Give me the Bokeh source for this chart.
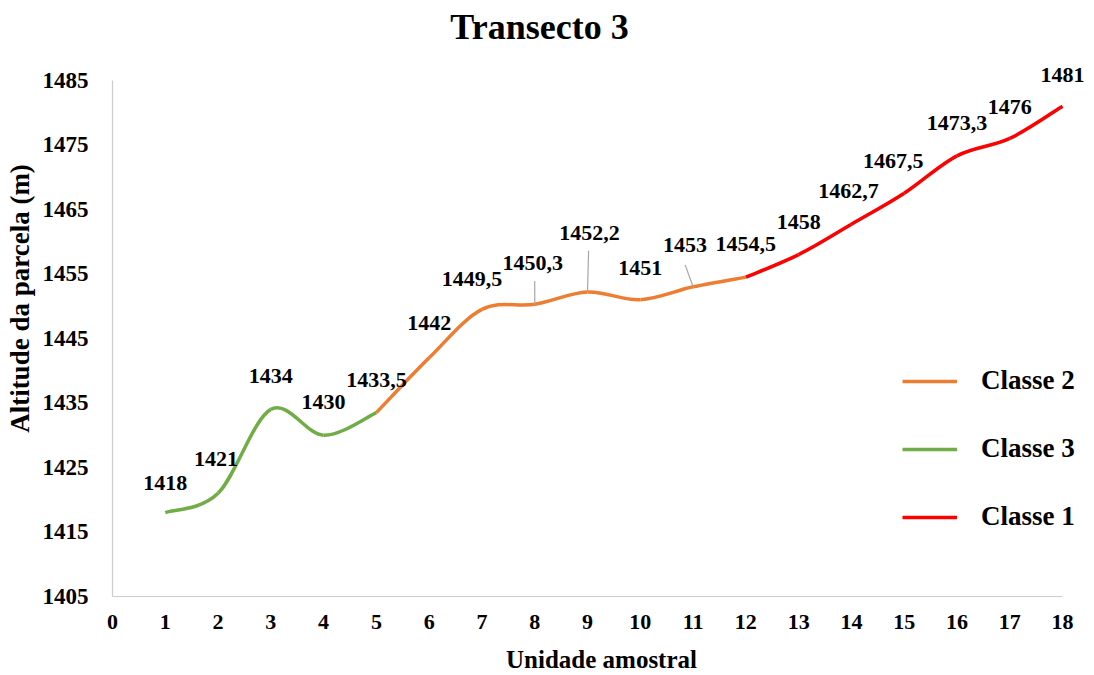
from bokeh.plotting import figure
from bokeh.models import (Range1d, FixedTicker, Legend, LegendItem, LabelSet,
                          Label, ColumnDataSource)
from bokeh.embed import file_html
from bokeh.resources import INLINE

# ---------------- data ----------------
units = list(range(1, 19))
altitude = [1418, 1421, 1434, 1430, 1433.5, 1442, 1449.5, 1450.3, 1452.2,
            1451, 1453, 1454.5, 1458, 1462.7, 1467.5, 1473.3, 1476, 1481]
labels = ["1418", "1421", "1434", "1430", "1433,5", "1442", "1449,5",
          "1450,3", "1452,2", "1451", "1453", "1454,5", "1458", "1462,7",
          "1467,5", "1473,3", "1476", "1481"]
# class segments (first unit, last unit)
classe3_units = [1, 5]
classe2_units = [5, 12]
classe1_units = [12, 18]
y_ticks = [1405, 1415, 1425, 1435, 1445, 1455, 1465, 1475, 1485]
x_ticks = list(range(0, 19))

# label placement (screen px)
label_dx = [0, -2, 0, 0, 0, 0, -10, -2, 2, 0, -8, 0, 0, -3, -11, 0, 0, 0]
label_dy = [30, 34, 33, 33, 33, 35, 30, 41, 59, 32, 42, 33, 33, 33, 32, 33, 31, 31]
# leader lines: unit index, (dx, dy) of top end in data units
leaders = [(8, 0.0, 3.6), (9, 0.02, 6.4), (11, -0.15, 3.4)]

ORANGE = "#ED7D31"
GREEN = "#70AD47"
RED = "#FF0000"
FONT = "Liberation Serif"

p = figure(width=1090, height=675, x_range=Range1d(0, 18.53),
           y_range=Range1d(1405, 1497.38), output_backend="svg", title=None,
           toolbar_location=None, min_border_left=112, min_border_right=0,
           min_border_top=0, min_border_bottom=78)
p.outline_line_color = None
p.xgrid.grid_line_color = None
p.ygrid.grid_line_color = None
p.background_fill_color = "white"
p.border_fill_color = "white"

for ax in (p.xaxis[0], p.yaxis[0]):
    ax.axis_line_color = "#cccccc"
    ax.axis_line_width = 1.2
    ax.major_tick_line_color = None
    ax.minor_tick_line_color = None
    ax.major_label_text_font = FONT
    ax.major_label_text_font_style = "bold"
    ax.major_label_text_color = "black"
    ax.axis_label_text_font = FONT
    ax.axis_label_text_font_style = "bold"
    ax.axis_label_text_color = "black"

p.xaxis.bounds = (0, 18)
p.yaxis.bounds = (1405, 1485)
p.xaxis.ticker = FixedTicker(ticks=x_ticks)
p.yaxis.ticker = FixedTicker(ticks=y_ticks)
p.xaxis.major_label_text_font_size = "22px"
p.yaxis.major_label_text_font_size = "23px"
p.xaxis.major_label_standoff = 12
p.yaxis.major_label_standoff = 18
p.xaxis.axis_label = "Unidade amostral"
p.yaxis.axis_label = "Altitude da parcela (m)"
p.xaxis.axis_label_text_font_size = "25px"
p.yaxis.axis_label_text_font_size = "27px"
p.xaxis.axis_label_standoff = 14
p.yaxis.axis_label_standoff = 5

p.add_layout(Label(x=8.09, y=1493.2, text="Transecto 3", text_font=FONT,
                   text_font_style="bold", text_font_size="36px",
                   text_color="black", text_align="center",
                   text_baseline="middle"))


def smooth_segments(u0, u1):
    xs = units[u0 - 1:u1]
    ys = altitude[u0 - 1:u1]
    n = len(xs)
    d = dict(x0=[], y0=[], x1=[], y1=[], cx0=[], cy0=[], cx1=[], cy1=[])
    for i in range(n - 1):
        pi = i - 1 if i > 0 else i
        ni = i + 2 if i + 2 < n else i + 1
        d["x0"].append(xs[i]); d["y0"].append(ys[i])
        d["x1"].append(xs[i + 1]); d["y1"].append(ys[i + 1])
        d["cx0"].append(xs[i] + (xs[i + 1] - xs[pi]) / 6)
        d["cy0"].append(ys[i] + (ys[i + 1] - ys[pi]) / 6)
        d["cx1"].append(xs[i + 1] - (xs[ni] - xs[i]) / 6)
        d["cy1"].append(ys[i + 1] - (ys[ni] - ys[i]) / 6)
    return ColumnDataSource(d)


def draw(u, color):
    return p.bezier(x0="x0", y0="y0", x1="x1", y1="y1", cx0="cx0", cy0="cy0",
                    cx1="cx1", cy1="cy1", source=smooth_segments(*u),
                    line_color=color, line_width=3.5)


r2 = draw(classe2_units, ORANGE)
r3 = draw(classe3_units, GREEN)
r1 = draw(classe1_units, RED)

# leader lines
lx0, ly0, lx1, ly1 = [], [], [], []
for u, dx, dy in leaders:
    lx0.append(units[u - 1]); ly0.append(altitude[u - 1])
    lx1.append(units[u - 1] + dx); ly1.append(altitude[u - 1] + dy)
p.segment(x0=lx0, y0=ly0, x1=lx1, y1=ly1, line_color="#a6a6a6", line_width=1.2)

lab_src = ColumnDataSource(dict(x=units, y=altitude, t=labels,
                                dx=label_dx, dy=label_dy))
p.add_layout(LabelSet(x="x", y="y", text="t", x_offset="dx", y_offset="dy",
                      source=lab_src, text_font=FONT, text_font_style="bold",
                      text_font_size="22px", text_color="black",
                      text_align="center", text_baseline="middle"))

legend = Legend(items=[LegendItem(label="Classe 2", renderers=[r2]),
                       LegendItem(label="Classe 3", renderers=[r3]),
                       LegendItem(label="Classe 1", renderers=[r1])],
                location=(790, 64), orientation="vertical",
                border_line_color=None, background_fill_alpha=0,
                padding=0, margin=0, spacing=37,
                glyph_width=55, glyph_height=30, label_height=30,
                label_standoff=24, label_text_font=FONT,
                label_text_font_style="bold", label_text_font_size="27px",
                label_text_color="black", label_text_baseline="middle")
p.add_layout(legend, "center")

open("out.html", "w").write(file_html(p, INLINE))
